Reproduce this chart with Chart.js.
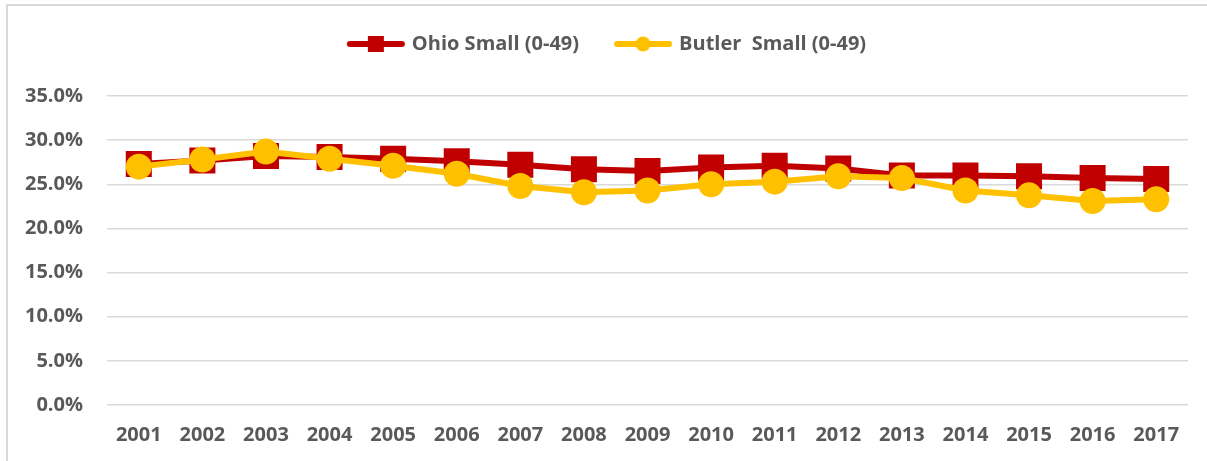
<!DOCTYPE html>
<html>
<head>
<meta charset="utf-8">
<script src="https://cdn.jsdelivr.net/npm/chart.js@4.4.0/dist/chart.umd.min.js"></script>
<style>
  html, body { margin: 0; padding: 0; background: #fff; }
  #wrap { position: relative; width: 1207px; height: 461px; overflow: hidden; }
  #frame { position: absolute; left: 6px; top: 4px; width: 1300px; height: 600px;
           border-top: 2px solid #d9d9d9; border-left: 2px solid #d9d9d9; }
  #c { position: absolute; left: 0; top: 0; }
</style>
</head>
<body>
<div id="wrap">
  <div id="frame"></div>
  <canvas id="c" width="1207" height="461"></canvas>
</div>
<script>
const years = ['2001','2002','2003','2004','2005','2006','2007','2008','2009','2010','2011','2012','2013','2014','2015','2016','2017'];
const ohioSmall = [27.3, 27.7, 28.2, 28.1, 27.9, 27.6, 27.2, 26.7, 26.5, 26.9, 27.1, 26.8, 26.0, 26.0, 25.9, 25.7, 25.6];
const butlerSmall = [27.0, 27.8, 28.7, 27.9, 27.1, 26.2, 24.8, 24.1, 24.3, 25.0, 25.3, 25.9, 25.7, 24.3, 23.75, 23.1, 23.3];
const seriesNames = ['Ohio Small (0-49)', 'Butler  Small (0-49)'];
const yTicks = [0, 5, 10, 15, 20, 25, 30, 35];

const RED = '#C00000';
const GOLD = '#FFC000';
const TXT = '#595959';
const FONT = '"Open Sans"';

function legendImage(color, marker) {
  const W = 92, H = 20;
  const cv = document.createElement('canvas');
  cv.width = W; cv.height = H;
  const g = cv.getContext('2d');
  g.strokeStyle = color; g.lineWidth = 6; g.lineCap = 'round';
  const x1 = W - 6, x0 = x1 - 52;
  g.beginPath(); g.moveTo(x0, H / 2); g.lineTo(x1, H / 2); g.stroke();
  g.fillStyle = color;
  const cx = (x0 + x1) / 2;
  if (marker === 'rect') { g.fillRect(cx - 8, H / 2 - 8, 16, 16); }
  else { g.beginPath(); g.arc(cx, H / 2, 7.5, 0, Math.PI * 2); g.fill(); }
  return cv;
}
const legImgs = [legendImage(RED, 'rect'), legendImage(GOLD, 'circle')];

const legendHeightPlugin = {
  id: 'legendHeight',
  beforeInit(chart) {
    const lg = chart.legend;
    if (lg) {
      const orig = lg.fit;
      lg.fit = function () { orig.call(this); this.height = 72; };
    }
  }
};

new Chart(document.getElementById('c'), {
  type: 'line',
  data: {
    labels: years,
    datasets: [
      { label: seriesNames[0], data: ohioSmall, borderColor: RED, backgroundColor: RED,
        borderWidth: 6, pointStyle: 'rect', pointRadius: 18.4, pointBorderWidth: 0,
        pointBackgroundColor: RED, tension: 0, order: 1 },
      { label: seriesNames[1], data: butlerSmall, borderColor: GOLD, backgroundColor: GOLD,
        borderWidth: 6, pointStyle: 'circle', pointRadius: 13, pointBorderWidth: 0,
        pointBackgroundColor: GOLD, tension: 0, order: 0 }
    ]
  },
  options: {
    responsive: false,
    animation: false,
    layout: { padding: { top: 24, left: 0, right: 19, bottom: 0 } },
    plugins: {
      tooltip: { enabled: false },
      legend: {
        position: 'top',
        labels: {
          usePointStyle: true,
          pointStyleWidth: 80,
          padding: 10,
          color: TXT,
          font: { family: FONT, size: 20, weight: 'bold' },
          generateLabels(chart) {
            return chart.data.datasets.map((ds, i) => ({
              text: ds.label, pointStyle: legImgs[i], fillStyle: ds.borderColor,
              strokeStyle: ds.borderColor, lineWidth: 0, hidden: false, datasetIndex: i, fontColor: TXT
            }));
          }
        }
      }
    },
    scales: {
      x: {
        offset: true,
        grid: { display: false, drawTicks: false },
        border: { display: false },
        ticks: { color: TXT, font: { family: FONT, size: 20, weight: 'bold' }, padding: 18,
                 autoSkip: false, maxRotation: 0 },
        afterFit(s) { s.height = 56; }
      },
      y: {
        min: 0, max: 35,
        afterBuildTicks(s) { s.ticks = yTicks.map(v => ({ value: v })); },
        grid: { color: '#d9d9d9', lineWidth: 1.5, drawTicks: false },
        border: { display: false },
        ticks: { color: TXT, font: { family: FONT, size: 20, weight: 'bold' }, padding: 24,
                 callback: v => v.toFixed(1) + '%' },
        afterFit(s) { s.width = 107; }
      }
    }
  },
  plugins: [legendHeightPlugin]
});
</script>
</body>
</html>
